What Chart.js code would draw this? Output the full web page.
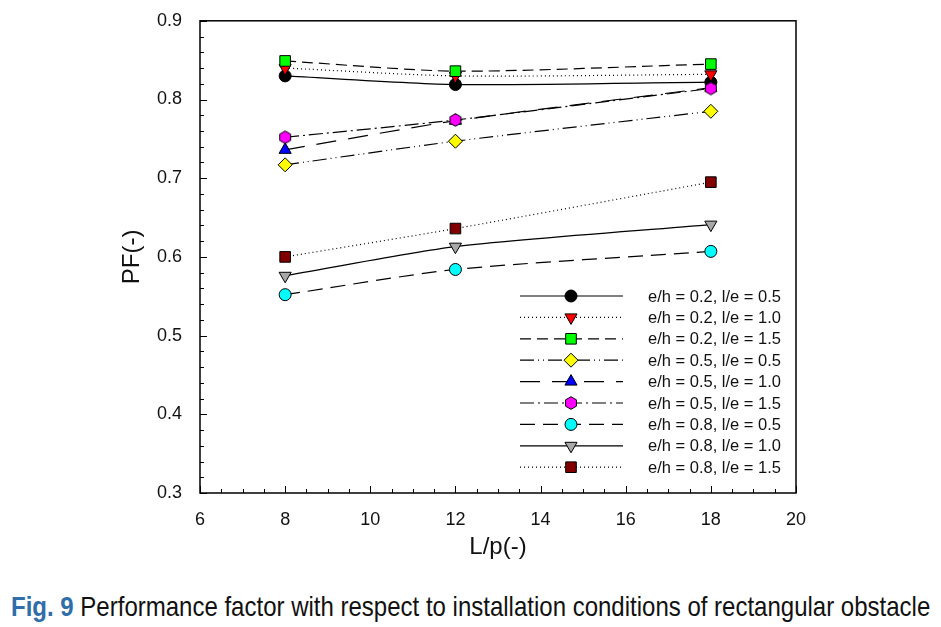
<!DOCTYPE html>
<html>
<head>
<meta charset="utf-8">
<script src="https://cdn.jsdelivr.net/npm/chart.js@4.4.1/dist/chart.umd.min.js"></script>
<style>
  body { margin: 0; background: #fff; }
  #wrap { position: relative; width: 941px; height: 570px; }
  #cap { position: absolute; left: 11px; top: 591px; white-space: nowrap;
         font-family: "Liberation Sans", sans-serif; font-size: 28px; line-height: 32px;
         color: #111; transform-origin: 0 0; }
  #cap b { color: #2f6ea8; font-weight: bold; }
</style>
</head>
<body>
<div id="wrap"><canvas id="myChart"></canvas></div>
<div id="cap"><b>Fig. 9</b> Performance factor with respect to installation conditions of rectangular obstacle</div>
<script>
var xVals = [8, 12, 18];
var labels = ['e/h = 0.2, l/e = 0.5', 'e/h = 0.2, l/e = 1.0', 'e/h = 0.2, l/e = 1.5',
              'e/h = 0.5, l/e = 0.5', 'e/h = 0.5, l/e = 1.0', 'e/h = 0.5, l/e = 1.5',
              'e/h = 0.8, l/e = 0.5', 'e/h = 0.8, l/e = 1.0', 'e/h = 0.8, l/e = 1.5'];
var pf1 = [0.830, 0.819, 0.822];
var pf2 = [0.840, 0.830, 0.832];
var pf3 = [0.849, 0.836, 0.845];
var pf4 = [0.717, 0.747, 0.785];
var pf5 = [0.736, 0.773, 0.815];
var pf6 = [0.752, 0.774, 0.814];
var pf7 = [0.552, 0.584, 0.607];
var pf8 = [0.576, 0.613, 0.641];
var pf9 = [0.600, 0.636, 0.695];

// hexagon marker
var hex = document.createElement('canvas');
hex.width = 16; hex.height = 16;
(function() {
  var c = hex.getContext('2d');
  c.beginPath();
  for (var i = 0; i < 6; i++) {
    var a = Math.PI / 2 + i * Math.PI / 3;
    var px = 8 + 6.3 * Math.cos(a), py = 8 + 6.3 * Math.sin(a);
    if (i == 0) c.moveTo(px, py); else c.lineTo(px, py);
  }
  c.closePath();
  c.fillStyle = '#ff00ff';
  c.fill();
  c.lineWidth = 1;
  c.strokeStyle = '#000';
  c.stroke();
})();

var series = [
  { data: pf1, color: '#000000', style: 'circle', rot: 0, r: 6, dash: [] },
  { data: pf2, color: '#ff0000', style: 'triangle', rot: 180, r: 7, dash: [1, 3] },
  { data: pf3, color: '#00ff00', style: 'rect', rot: 0, r: 7.5, dash: [11, 6] },
  { data: pf4, color: '#ffff00', style: 'rectRot', rot: 0, r: 7, dash: [14, 4, 1, 4, 1, 4] },
  { data: pf5, color: '#0000ff', style: 'triangle', rot: 0, r: 7, dash: [20, 12] },
  { data: pf6, color: '#ff00ff', style: hex, rot: 0, r: 6, dash: [14, 4, 2, 4] },
  { data: pf7, color: '#00ffff', style: 'circle', rot: 0, r: 6, dash: [15, 8] },
  { data: pf8, color: '#a8a8a8', style: 'triangle', rot: 180, r: 7, dash: [] },
  { data: pf9, color: '#800000', style: 'rect', rot: 0, r: 7.5, dash: [1, 3] }
];

var datasets = series.map(function(s, i) {
  return {
    label: labels[i],
    data: s.data.map(function(v, j) { return { x: xVals[j], y: v }; }),
    borderColor: '#000',
    borderWidth: 1.2,
    borderDash: s.dash,
    backgroundColor: s.color,
    pointBackgroundColor: s.color,
    pointBorderColor: '#000',
    pointBorderWidth: 1,
    pointStyle: s.style,
    pointRotation: s.rot,
    pointRadius: s.r,
    tension: 0.25,
    order: 9 - i
  };
});

var axisFont = { family: 'Liberation Sans', size: 18 };

var boxTicks = {
  id: 'boxTicks',
  afterDatasetsDraw: function(chart) {
    var ctx = chart.ctx, a = chart.chartArea;
    var xs = chart.scales.x, ys = chart.scales.y;
    ctx.save();
    ctx.strokeStyle = '#000';
    ctx.lineWidth = 1;
    ctx.setLineDash([]);
    ctx.beginPath();
    for (var v = 6; v <= 20.001; v += 0.5) {
      var px = Math.round(xs.getPixelForValue(v)) + 0.5;
      var len = (Math.abs(v / 2 - Math.round(v / 2)) < 0.001) ? 7 : 4;
      ctx.moveTo(px, a.bottom); ctx.lineTo(px, a.bottom - len);
    }
    for (var k = 0; k <= 30; k++) {
      var val = 0.3 + k * 0.02;
      var py = Math.round(ys.getPixelForValue(val)) + 0.5;
      var l2 = (k % 5 == 0) ? 7 : 4;
      ctx.moveTo(a.left, py); ctx.lineTo(a.left + l2, py);
    }
    ctx.stroke();
    ctx.lineWidth = 1.5;
    ctx.strokeRect(a.left, a.top, a.right - a.left, a.bottom - a.top);

    // legend
    var x0 = 520, x1 = 623, xm = 571, xt = 648, y0 = 296, dy = 21.4;
    ctx.font = '16.5px "Liberation Sans"';
    ctx.textBaseline = 'middle';
    chart.data.datasets.forEach(function(ds, i) {
      var y = y0 + i * dy;
      ctx.lineWidth = 1.2;
      ctx.strokeStyle = '#000';
      ctx.setLineDash(ds.borderDash);
      ctx.beginPath();
      ctx.moveTo(x0, y); ctx.lineTo(x1, y);
      ctx.stroke();
      ctx.setLineDash([]);
      ctx.fillStyle = ds.pointBackgroundColor;
      ctx.strokeStyle = '#000';
      ctx.lineWidth = 1;
      Chart.helpers.drawPoint(ctx, { pointStyle: ds.pointStyle, rotation: ds.pointRotation, radius: ds.pointRadius, borderWidth: 1 }, xm, y);
      ctx.fillStyle = '#111';
      ctx.fillText(ds.label, xt, y + 1);
    });
    ctx.restore();
  }
};

new Chart(document.getElementById('myChart'), {
  type: 'line',
  data: { datasets: datasets },
  options: {
    responsive: true,
    maintainAspectRatio: false,
    animation: false,
    layout: { padding: { left: 0, right: 145, top: 6, bottom: 0 } },
    plugins: { legend: { display: false }, tooltip: { enabled: false } },
    scales: {
      x: {
        type: 'linear', min: 6, max: 20,
        grid: { display: false },
        border: { display: false },
        ticks: { stepSize: 2, color: '#111', font: axisFont, padding: 8, maxRotation: 0 },
        title: { display: true, text: 'L/p(-)', color: '#111', font: { family: 'Liberation Sans', size: 24 }, padding: { top: 0, bottom: 8 } },
        afterFit: function(s) { s.height = 77; }
      },
      y: {
        min: 0.3, max: 0.9,
        grid: { display: false },
        border: { display: false },
        ticks: { stepSize: 0.1, color: '#111', font: axisFont, padding: 10,
                 callback: function(v) { return v.toFixed(1); } },
        title: { display: true, text: 'PF(-)', color: '#111', font: { family: 'Liberation Sans', size: 24 }, padding: { top: 118, bottom: 0 } },
        afterFit: function(s) { s.width = 200; }
      }
    }
  },
  plugins: [boxTicks]
});

// fit caption width
var cap = document.getElementById('cap');
var w = cap.scrollWidth;
cap.style.transform = 'scaleX(' + (919 / w) + ')';
</script>
</body>
</html>
